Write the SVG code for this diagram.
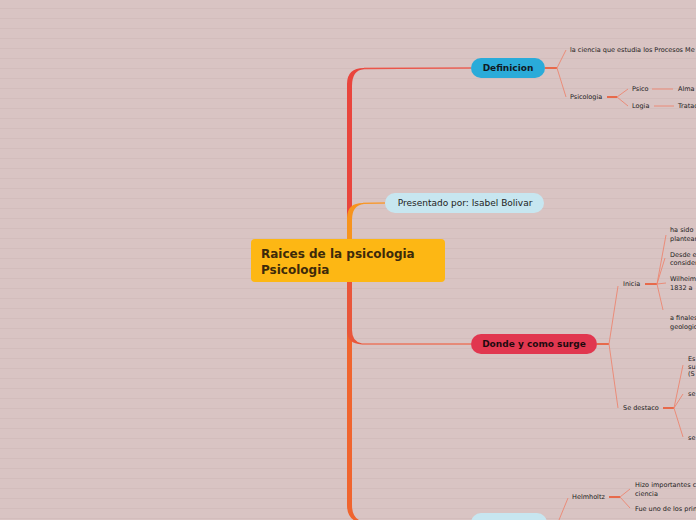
<svg xmlns="http://www.w3.org/2000/svg" width="696" height="520" viewBox="0 0 696 520">
<defs>
<pattern id="stripes" width="10" height="10" patternUnits="userSpaceOnUse">
<rect width="10" height="10" fill="#d9c4c3"/>
<rect y="8" width="10" height="1" fill="#d3bdbc"/>
</pattern>
</defs>
<style>
.t{font-family:"DejaVu Sans",Verdana,sans-serif;fill:#222}
.s{font-size:6.5px}
.b{font-weight:bold}
.thin{fill:none;stroke:#ec8670;stroke-width:0.9}
.stub{fill:none;stroke:#e9603e;stroke-width:1.8}
</style>
<rect width="696" height="520" fill="url(#stripes)"/>
<g id="connectors">
<path d="M347,262 L347,505 Q347,522 364,523 L471,523 L471,522 L364,521.5 Q352,520 352,505 L352,262 Z" fill="#f0642e"/>
<path d="M347,262 L347,330 Q347,344 362,344.4 L471,344.4 L471,343.6 L362,343.4 Q352,342 352,330 L352,262 Z" fill="#e9563a"/>
<line x1="362" y1="344" x2="471" y2="344" stroke="#ec8670" stroke-width="0.8"/>
<path d="M347,262 L347,84 Q347,68 364,68 L471,67.6 L471,68.4 L364,69.2 Q352,70 352,86 L352,262 Z" fill="#e9453d"/>
<line x1="364" y1="68" x2="471" y2="68" stroke="#ec7060" stroke-width="0.8"/>
<path d="M347,262 L347,218 Q347,203 363,203 L385,202.6 L385,203.4 L364,204 Q352,205 352,220 L352,262 Z" fill="#f7941d"/>
<line x1="363" y1="203" x2="385" y2="203" stroke="#f7a040" stroke-width="0.8"/>
<path class="stub" d="M545,68 L557,68"/>
<path class="thin" d="M557,68 L566,50 M557,68 L566,97"/>
<path class="stub" d="M607,97 L617,97"/>
<path class="thin" d="M617,97 L628,89 M617,97 L628,106"/>
<path class="thin" d="M652,89 L673,89 M654,106 L674,106"/>
<path class="stub" d="M597,344 L609,344"/>
<path class="thin" d="M609,344 L618,286 M609,344 L618,408"/>
<path class="stub" d="M645,284 L657,284"/>
<path class="thin" d="M657,284 L666,235 M657,284 L665,258 M657,284 L666,283 M657,284 L663,310"/>
<path class="stub" d="M663,408 L674,408"/>
<path class="thin" d="M674,408 L683,365 M674,408 L683,394 M674,408 L683,437"/>
<path class="thin" d="M559,520 L568,498"/>
<path class="stub" d="M609,497 L620,497"/>
<path class="thin" d="M620,497 L630,489 M620,497 L630,508"/>
</g>
<g id="central">
<rect x="251" y="239" width="194" height="43" rx="4" fill="#fdb714"/>
<text class="t b" x="261" y="258" font-size="12" style="fill:#3d2a0a">Raices de la psicologia</text>
<text class="t b" x="261" y="273.5" font-size="12" style="fill:#3d2a0a">Psicologia</text>
</g>
<g id="definicion">
<rect x="471" y="58" width="74" height="20" rx="10" fill="#2aabd9"/>
<text class="t b" x="508" y="71.3" font-size="9" text-anchor="middle" style="fill:#111a24">Definicion</text>
</g>
<g id="presentado">
<rect x="385" y="193" width="159" height="20" rx="10" fill="#c7e6f0"/>
<text class="t" x="465" y="206.3" font-size="9" text-anchor="middle">Presentado por: Isabel Bolivar</text>
</g>
<g id="donde">
<rect x="471" y="334" width="126" height="20" rx="10" fill="#e1374f"/>
<text class="t b" x="534" y="347.3" font-size="9" text-anchor="middle" style="fill:#1e0a0e">Donde y como surge</text>
</g>
<g id="bottom">
<rect x="471" y="513" width="76" height="20" rx="10" fill="#c7e6f0"/>
</g>
<g id="def-children">
<text class="t s" x="570" y="52.3">la ciencia que estudia los Procesos Me</text>
<text class="t s" x="570" y="99.3">Psicologia</text>
<text class="t s" x="632" y="91.3">Psico</text>
<text class="t s" x="632" y="108.3">Logia</text>
<text class="t s" x="678" y="91.3">Alma</text>
<text class="t s" x="678" y="108.3">Tratad</text>
</g>
<g id="donde-children">
<text class="t s" x="623" y="286.3">Inicia</text>
<text class="t s" x="670" y="232.3">ha sido</text>
<text class="t s" x="670" y="241.3">plantean</text>
<text class="t s" x="670" y="257.3">Desde e</text>
<text class="t s" x="670" y="265.3">consider</text>
<text class="t s" x="670" y="281.3">Wilheim</text>
<text class="t s" x="670" y="290.3">1832 a</text>
<text class="t s" x="670" y="320.3">a finales</text>
<text class="t s" x="670" y="329.3">geologic</text>
<text class="t s" x="623" y="410.3">Se destaco</text>
<text class="t s" x="688" y="361.3">Es</text>
<text class="t s" x="688" y="369.3">su</text>
<text class="t s" x="688" y="376.3">(S</text>
<text class="t s" x="688" y="396.3">se</text>
<text class="t s" x="688" y="440.3">se</text>
</g>
<g id="bottom-children">
<text class="t s" x="572" y="499.3">Helmholtz</text>
<text class="t s" x="635" y="487.3">Hizo importantes c</text>
<text class="t s" x="635" y="496.3">ciencia</text>
<text class="t s" x="635" y="511.3">Fue uno de los prin</text>
</g>
</svg>
